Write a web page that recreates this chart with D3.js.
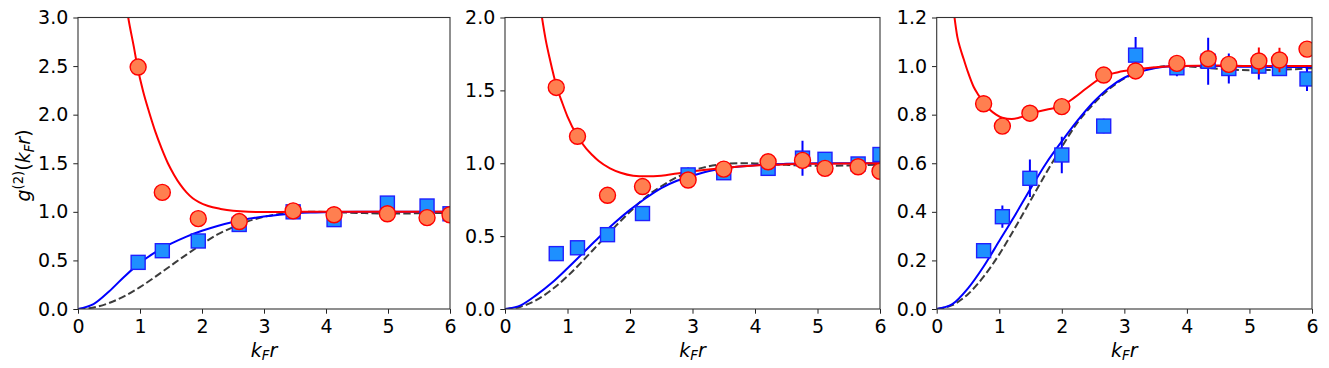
<!DOCTYPE html>
<html>
<head>
<meta charset="utf-8">
<script src="https://cdn.jsdelivr.net/npm/d3@7"></script>
<style>
  body { margin: 0; background: #fff; }
  text { font-family: "DejaVu Sans", sans-serif; }
</style>
</head>
<body>
<div id="chart"></div>
<script>
// ......................
// Data (x = k_F r)

// panel 1
var xA     = [0.97, 1.36, 1.94, 2.60, 3.47, 4.13, 4.99, 5.63, 6.0];
var sqA    = [0.48, 0.60, 0.70, 0.87, 1.00, 0.92, 1.09, 1.06, 0.98];
var sqErrA = [0, 0, 0, 0, 0, 0, 0, 0, 0];
var ciA    = [2.49, 1.20, 0.93, 0.90, 1.01, 0.97, 0.98, 0.94, 0.97];
var ciErrA = [0, 0, 0, 0, 0, 0, 0, 0, 0];

// panel 2
var xB     = [0.82, 1.16, 1.64, 2.20, 2.93, 3.50, 4.21, 4.76, 5.12, 5.65, 6.0];
var sqB    = [0.38, 0.42, 0.51, 0.655, 0.92, 0.935, 0.965, 1.035, 1.027, 0.995, 1.06];
var sqErrB = [0, 0, 0, 0, 0.05, 0, 0.05, 0.12, 0.05, 0, 0];
var ciB    = [1.52, 1.185, 0.78, 0.84, 0.885, 0.96, 1.01, 1.02, 0.965, 0.976, 0.945];
var ciErrB = [0, 0, 0, 0, 0, 0, 0, 0, 0, 0, 0];

// panel 3
var xC     = [0.75, 1.05, 1.49, 2.0, 2.67, 3.18, 3.84, 4.34, 4.67, 5.15, 5.48, 5.92];
var sqC    = [0.24, 0.38, 0.538, 0.634, 0.753, 1.045, 0.993, 1.02, 0.99, 1.0, 0.99, 0.947];
var sqErrC = [0, 0.046, 0.077, 0.075, 0.03, 0.075, 0.035, 0.097, 0.062, 0.055, 0.03, 0.05];
var ciC    = [0.845, 0.753, 0.806, 0.833, 0.963, 0.98, 1.011, 1.03, 1.007, 1.021, 1.025, 1.07];
var ciErrC = [0, 0.02, 0, 0, 0, 0, 0, 0, 0, 0.055, 0.05, 0];

// dashed reference curve (same in every panel)
var idealX = [0, 0.25, 0.5, 0.75, 1, 1.25, 1.5, 1.75, 2, 2.25, 2.5, 2.75, 3, 3.25, 3.5, 3.75, 4, 4.5, 5, 5.5, 6];
var idealY = [0, 0.016, 0.061, 0.133, 0.225, 0.333, 0.447, 0.56, 0.667, 0.767, 0.842, 0.904, 0.949, 0.978, 0.994, 1.0, 0.999, 0.989, 0.983, 0.985, 0.991];

// solid blue fit curves
var blueX  = [0, 0.25, 0.5, 0.75, 1, 1.25, 1.5, 1.75, 2, 2.25, 2.5, 2.75, 3, 3.25, 3.5, 3.75, 4, 4.5, 5, 5.5, 6];
var blueA  = [0, 0.05, 0.18, 0.335, 0.475, 0.585, 0.672, 0.745, 0.805, 0.855, 0.895, 0.928, 0.952, 0.97, 0.984, 0.992, 0.996, 1.0, 1.0, 1.0, 1.0];
var blueB  = [0, 0.025, 0.095, 0.18, 0.28, 0.385, 0.49, 0.59, 0.68, 0.76, 0.83, 0.88, 0.915, 0.945, 0.965, 0.978, 0.987, 0.996, 1.0, 1.0, 1.0];
var blueC  = [0, 0.02, 0.085, 0.175, 0.28, 0.385, 0.495, 0.6, 0.69, 0.775, 0.85, 0.91, 0.952, 0.977, 0.992, 0.999, 1.0, 1.0, 0.997, 0.996, 0.996];

// solid red fit curves
var redXA  = [0.78, 0.81, 0.9, 0.96, 1.05, 1.15, 1.25, 1.35, 1.45, 1.55, 1.65, 1.75, 1.85, 1.95, 2.1, 2.3, 2.5, 2.75, 3, 3.5, 4, 5, 6];
var redA   = [3.12, 3.0, 2.7, 2.49, 2.24, 2.02, 1.82, 1.65, 1.5, 1.38, 1.28, 1.2, 1.14, 1.1, 1.06, 1.03, 1.01, 1.0, 0.998, 1.0, 1.0, 1.0, 1.0];
var redXB  = [0.57, 0.65, 0.72, 0.83, 0.92, 1.0, 1.16, 1.3, 1.4, 1.5, 1.68, 1.85, 2.05, 2.25, 2.5, 2.75, 3, 3.25, 3.5, 3.75, 4, 4.5, 5, 6];
var redB   = [2.06, 1.85, 1.71, 1.52, 1.41, 1.32, 1.185, 1.1, 1.055, 1.015, 0.965, 0.935, 0.915, 0.91, 0.915, 0.93, 0.945, 0.957, 0.967, 0.977, 0.985, 0.993, 0.997, 1.0];
var redXC  = [0.27, 0.33, 0.38, 0.43, 0.5, 0.59, 0.67, 0.75, 0.85, 0.95, 1.05, 1.2, 1.35, 1.5, 1.75, 2.0, 2.2, 2.4, 2.67, 2.9, 3.2, 3.5, 3.85, 4.5, 5, 6];
var redC   = [1.23, 1.12, 1.07, 1.03, 0.975, 0.915, 0.88, 0.85, 0.82, 0.8, 0.787, 0.782, 0.79, 0.805, 0.82, 0.836, 0.87, 0.91, 0.958, 0.975, 0.986, 0.995, 1.0, 1.002, 1.0, 1.0];

// tick labels
var xTicks  = [0, 1, 2, 3, 4, 5, 6];
var yTicksA = [0, 0.5, 1.0, 1.5, 2.0, 2.5, 3.0];
var yTicksB = [0, 0.5, 1.0, 1.5, 2.0];
var yTicksC = [0, 0.2, 0.4, 0.6, 0.8, 1.0, 1.2];

// ......................
// Setting up SVG area
var svgWidth = 1329;
var svgHeight = 368;
var top0 = 17.5, bottom0 = 309;
var tickLen = 4.7;
var fontSize = "19px";

var svg = d3.select("#chart")
    .append("svg")
    .attr("width", svgWidth)
    .attr("height", svgHeight);

function zip(xs, ys) {
    return xs.map((x, i) => [x, ys[i]]);
}

var panels = [
    {left: 78,    right: 450,  yMax: 3.0, yTicks: yTicksA, xs: xA, sq: sqA, sqErr: sqErrA, ci: ciA, ciErr: ciErrA,
     blue: zip(blueX, blueA), red: zip(redXA, redA), label: true},
    {left: 505,   right: 880,  yMax: 2.0, yTicks: yTicksB, xs: xB, sq: sqB, sqErr: sqErrB, ci: ciB, ciErr: ciErrB,
     blue: zip(blueX, blueB), red: zip(redXB, redB), label: false},
    {left: 936.7, right: 1312, yMax: 1.2, yTicks: yTicksC, xs: xC, sq: sqC, sqErr: sqErrC, ci: ciC, ciErr: ciErrC,
     blue: zip(blueX, blueC), red: zip(redXC, redC), label: false}
];

var ideal = zip(idealX, idealY);

panels.forEach((p, pi) => {
    let x = d3.scaleLinear().domain([0, 6]).range([p.left, p.right]);
    let y = d3.scaleLinear().domain([0, p.yMax]).range([bottom0, top0]);

    let clipId = "clip" + pi;
    svg.append("clipPath").attr("id", clipId)
        .append("rect")
        .attr("x", p.left).attr("y", top0)
        .attr("width", p.right - p.left).attr("height", bottom0 - top0);

    let g = svg.append("g").attr("clip-path", `url(#${clipId})`);

    let line = d3.line()
        .x(d => x(d[0]))
        .y(d => y(d[1]))
        .curve(d3.curveMonotoneX);

    // dashed reference
    g.append("path")
        .attr("d", line(ideal))
        .attr("fill", "none")
        .attr("stroke", "#3c3c3c")
        .attr("stroke-width", 2)
        .attr("stroke-dasharray", "7.4,3.2");

    // blue fit
    g.append("path")
        .attr("d", line(p.blue))
        .attr("fill", "none")
        .attr("stroke", "#0000ff")
        .attr("stroke-width", 2);

    // red fit
    g.append("path")
        .attr("d", line(p.red))
        .attr("fill", "none")
        .attr("stroke", "#ff0000")
        .attr("stroke-width", 2);

    // blue squares + error bars
    let sqData = p.xs.map((v, i) => ({x: v, y: p.sq[i], e: p.sqErr[i]}));
    g.selectAll(".errB").data(sqData.filter(d => d.e > 0)).enter()
        .append("line")
        .attr("x1", d => x(d.x)).attr("x2", d => x(d.x))
        .attr("y1", d => y(d.y - d.e)).attr("y2", d => y(d.y + d.e))
        .attr("stroke", "#0000ff")
        .attr("stroke-width", 2);

    let s = 14;
    g.selectAll(".sq").data(sqData).enter()
        .append("rect")
        .attr("x", d => x(d.x) - s / 2)
        .attr("y", d => y(d.y) - s / 2)
        .attr("width", s).attr("height", s)
        .attr("fill", "#1e90ff")
        .attr("stroke", "#2020ff")
        .attr("stroke-width", 1.4);

    // red circles + error bars
    let ciData = p.xs.map((v, i) => ({x: v, y: p.ci[i], e: p.ciErr[i]}));
    g.selectAll(".errR").data(ciData.filter(d => d.e > 0)).enter()
        .append("line")
        .attr("x1", d => x(d.x)).attr("x2", d => x(d.x))
        .attr("y1", d => y(d.y - d.e)).attr("y2", d => y(d.y + d.e))
        .attr("stroke", "#ff0000")
        .attr("stroke-width", 2);

    g.selectAll(".ci").data(ciData).enter()
        .append("circle")
        .attr("cx", d => x(d.x))
        .attr("cy", d => y(d.y))
        .attr("r", 8)
        .attr("fill", "#ff7f50")
        .attr("stroke", "#ff0000")
        .attr("stroke-width", 1.4);

    // axes
    let xAxis = d3.axisBottom(x).tickValues(xTicks).tickFormat(d3.format("d"))
        .tickSize(tickLen).tickPadding(6);
    let yAxis = d3.axisLeft(y).tickValues(p.yTicks).tickFormat(d3.format(".1f"))
        .tickSize(tickLen).tickPadding(5);

    let xg = svg.append("g").attr("transform", `translate(0, ${bottom0})`).call(xAxis);
    let yg = svg.append("g").attr("transform", `translate(${p.left}, 0)`).call(yAxis);
    [xg, yg].forEach(a => {
        a.select(".domain").remove();
        a.selectAll("line").attr("stroke", "#222").attr("stroke-width", 1);
        a.selectAll("text").attr("fill", "#000").style("font-size", fontSize)
            .style("font-family", "'DejaVu Sans', sans-serif");
    });

    // frame
    svg.append("rect")
        .attr("x", p.left).attr("y", top0)
        .attr("width", p.right - p.left).attr("height", bottom0 - top0)
        .attr("fill", "none")
        .attr("stroke", "#333")
        .attr("stroke-width", 1.1);

    // x-axis label  k_F r
    let xl = svg.append("text")
        .attr("x", (p.left + p.right) / 2)
        .attr("y", 356.5)
        .attr("text-anchor", "middle")
        .style("font-size", fontSize)
        .style("font-style", "italic");
    xl.append("tspan").text("k");
    xl.append("tspan").attr("dy", 3.5).style("font-size", "13.3px").text("F");
    xl.append("tspan").attr("dy", -3.5).text("r");

    // y-axis label  g^(2)(k_F r)
    if (p.label) {
        let yl = svg.append("text")
            .attr("transform", `translate(30, 165.5) rotate(-90)`)
            .attr("text-anchor", "middle")
            .style("font-size", fontSize);
        yl.append("tspan").style("font-style", "italic").text("g");
        yl.append("tspan").attr("dy", -7.5).style("font-size", "13.3px").text("(2)");
        yl.append("tspan").attr("dy", 7.5).text("(");
        yl.append("tspan").style("font-style", "italic").text("k");
        yl.append("tspan").attr("dy", 3.5).style("font-size", "13.3px").style("font-style", "italic").text("F");
        yl.append("tspan").attr("dy", -3.5).style("font-style", "italic").text("r");
        yl.append("tspan").text(")");
    }
});
</script>
</body>
</html>
